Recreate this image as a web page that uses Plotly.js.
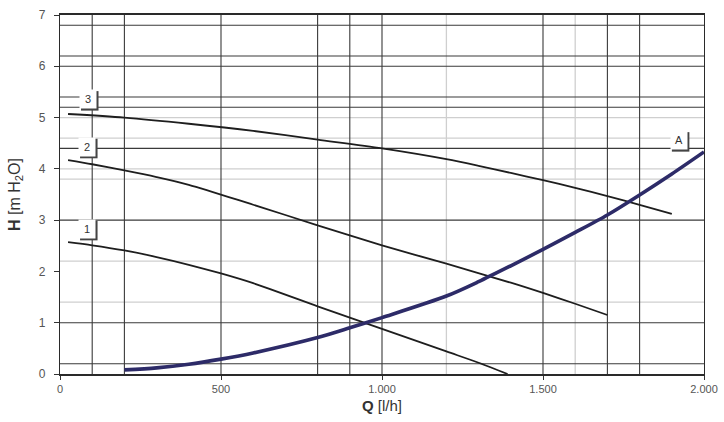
<!DOCTYPE html>
<html>
<head>
<meta charset="utf-8">
<script src="https://cdn.plot.ly/plotly-3.0.1.min.js"></script>
<style>html,body{margin:0;padding:0;background:#fff}#chart{width:724px;height:422px}</style>
</head>
<body>
<div id="chart"></div>
<script>
// Curve 1
const q1 = [25, 100, 200, 300, 400, 500, 600, 800, 900, 1000, 1200, 1300, 1390];
const h1 = [2.57, 2.51, 2.41, 2.28, 2.13, 1.96, 1.77, 1.32, 1.10, 0.88, 0.44, 0.22, 0.0];
// Curve 2
const q2 = [25, 100, 200, 300, 400, 600, 800, 1000, 1200, 1400, 1500, 1600, 1700];
const h2 = [4.17, 4.09, 3.97, 3.84, 3.69, 3.30, 2.90, 2.51, 2.15, 1.78, 1.58, 1.37, 1.15];
// Curve 3
const q3 = [25, 200, 400, 600, 800, 1000, 1200, 1300, 1400, 1500, 1600, 1700, 1800, 1900];
const h3 = [5.07, 5.00, 4.88, 4.74, 4.57, 4.40, 4.19, 4.06, 3.92, 3.78, 3.63, 3.47, 3.30, 3.12];
// System curve A
const qA = [200, 300, 400, 500, 600, 800, 900, 1000, 1200, 1300, 1400, 1500, 1600, 1700, 1800, 1900, 2000];
const hA = [0.08, 0.12, 0.19, 0.29, 0.41, 0.71, 0.90, 1.10, 1.52, 1.80, 2.11, 2.43, 2.76, 3.10, 3.49, 3.90, 4.33];

const xTickVals = [0, 500, 1000, 1500, 2000];
const xTickText = ['0', '500', '1.000', '1.500', '2.000'];
const yTickVals = [0, 1, 2, 3, 4, 5, 6, 7];
const yTickText = ['0', '1', '2', '3', '4', '5', '6', '7'];

const xGridDark = [100, 200, 500, 800, 900, 1000, 1500, 1700, 1800];
const xGridLight = [1200, 1600];
const yGridDark = [0.2, 1, 3, 4.4, 5.2, 5.4, 6, 6.2, 6.8];
const yGridLight = [1.4, 2.2, 3.8, 4, 4.6, 5];

const curveNames = ['1', '2', '3', 'A'];

const dark = '#3a3a3a', light = '#cfcfcf';
const shapes = [];
xGridLight.forEach(v => shapes.push({type:'line', xref:'x', yref:'paper', x0:v, x1:v, y0:0, y1:1, line:{color:light, width:1.3}, layer:'below'}));
yGridLight.forEach(v => shapes.push({type:'line', xref:'paper', yref:'y', x0:0, x1:1, y0:v, y1:v, line:{color:light, width:1.3}, layer:'below'}));
xGridDark.forEach(v => shapes.push({type:'line', xref:'x', yref:'paper', x0:v, x1:v, y0:0, y1:1, line:{color:dark, width:1.1}, layer:'below'}));
yGridDark.forEach(v => shapes.push({type:'line', xref:'paper', yref:'y', x0:0, x1:1, y0:v, y1:v, line:{color:dark, width:1.1}, layer:'below'}));

const traces = [
  {x:q1, y:h1, name:curveNames[0], mode:'lines', line:{color:'#1e1e1e', width:1.8, shape:'spline', smoothing:0.8}},
  {x:q2, y:h2, name:curveNames[1], mode:'lines', line:{color:'#1e1e1e', width:1.8, shape:'spline', smoothing:0.8}},
  {x:q3, y:h3, name:curveNames[2], mode:'lines', line:{color:'#1e1e1e', width:1.8, shape:'spline', smoothing:0.8}},
  {x:qA, y:hA, name:curveNames[3], mode:'lines', line:{color:'#2d2b68', width:3.6, shape:'spline', smoothing:0.8}}
];

// label tags (position of each curve's tag)
const labelPos = [[84, 2.83], [84, 4.43], [87, 5.36], [1922, 4.56]];
const annotations = [];
labelPos.forEach((p, i) => {
  // dark right/bottom edge of the tag
  shapes.push({type:'rect', xref:'x', yref:'y', xsizemode:'pixel', ysizemode:'pixel', xanchor:p[0], yanchor:p[1],
               x0:-7, x1:10.5, y0:-11.5, y1:8, fillcolor:'#444', line:{width:0}, layer:'above'});
  annotations.push({x:p[0], y:p[1], xref:'x', yref:'y', text:curveNames[i], showarrow:false, bgcolor:'#ffffff',
                    width:14, height:16, borderpad:1, font:{family:'Liberation Sans, Arial, sans-serif', size:11, color:'#333'}});
});

const layout = {
  width:724, height:422,
  margin:{l:60, r:20, t:15, b:48},
  paper_bgcolor:'#ffffff', plot_bgcolor:'#ffffff',
  showlegend:false,
  font:{family:'Liberation Sans, Arial, sans-serif', color:'#444'},
  xaxis:{range:[0, 2000], showgrid:false, zeroline:false, showline:true, linecolor:'#2a2a2a', linewidth:1.6, mirror:true,
         tickvals:xTickVals, ticktext:xTickText, ticks:'outside', ticklen:4, tickcolor:'#333', tickfont:{size:11, color:'#555'},
         title:{text:'<b>Q</b> [l/h]', font:{size:15, color:'#333'}, standoff:7}},
  yaxis:{range:[0, 7], showgrid:false, zeroline:false, showline:true, linecolor:'#2a2a2a', linewidth:1.2, mirror:true,
         tickvals:yTickVals, ticktext:yTickText, ticks:'outside', ticklen:5, tickcolor:'#333', tickfont:{size:12, color:'#555'},
         ticklabelstandoff:6,
         title:{text:'<b>H</b> [m H<sub>2</sub>O]', font:{size:16, color:'#333'}, standoff:14}},
  shapes:shapes,
  annotations:annotations
};

Plotly.newPlot('chart', traces, layout, {displayModeBar:false, staticPlot:true});
</script>
</body>
</html>
